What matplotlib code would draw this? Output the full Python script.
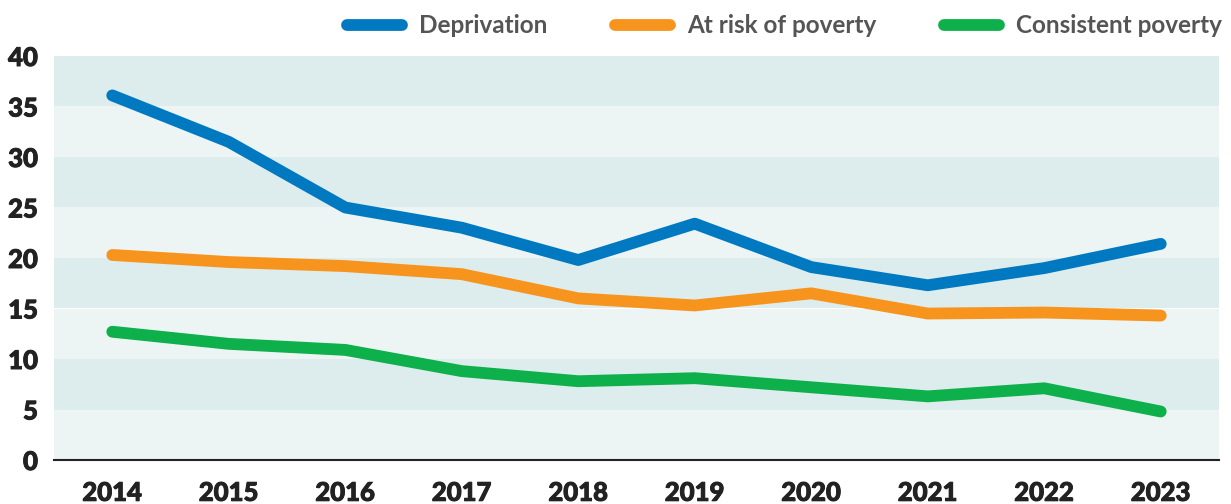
import matplotlib
matplotlib.use("Agg")
import matplotlib.pyplot as plt
from matplotlib.lines import Line2D
import matplotlib.patheffects as pe

plt.rcParams['font.family'] = ['Lato', 'DejaVu Sans']

years = ["2014", "2015", "2016", "2017", "2018", "2019", "2020", "2021", "2022", "2023"]
deprivation = [36.1, 31.5, 25.0, 23.0, 19.8, 23.4, 19.1, 17.3, 19.0, 21.4]
at_risk = [20.3, 19.6, 19.2, 18.4, 16.0, 15.3, 16.5, 14.5, 14.6, 14.3]
consistent = [12.7, 11.5, 10.9, 8.8, 7.8, 8.1, 7.2, 6.3, 7.1, 4.8]
yticks = [0, 5, 10, 15, 20, 25, 30, 35, 40]

colors = {"Deprivation": "#0079C1", "At risk of poverty": "#F7941D", "Consistent poverty": "#0DB04B"}

fig = plt.figure(figsize=(12.31, 5.04), dpi=100)
ax = fig.add_axes([54/1231, 1 - 460/504, (1219-54)/1231, (460-56)/504])

for i in range(len(yticks) - 1):
    c = "#ECF5F4" if i % 2 == 0 else "#DDECEC"
    ax.axhspan(yticks[i], yticks[i+1], color=c, lw=0, zorder=0)

x = range(len(years))
for name, vals in [("Deprivation", deprivation), ("At risk of poverty", at_risk), ("Consistent poverty", consistent)]:
    ax.plot(x, vals, color=colors[name], lw=8.5, solid_capstyle='round', solid_joinstyle='round', zorder=3)

ax.set_xlim(-0.5, len(years) - 0.5)
ax.set_ylim(0, 40)
ax.set_xticks(list(x))
ax.set_xticklabels(years)
ax.set_yticks(yticks)
for s in ["top", "right", "left"]:
    ax.spines[s].set_visible(False)
ax.spines["bottom"].set_color("#222222")
ax.spines["bottom"].set_linewidth(1.5)
ax.tick_params(axis='both', length=0, labelsize=18.5, labelcolor="#222222")
ax.tick_params(axis='x', pad=15)
ax.tick_params(axis='y', pad=11.5)
for lab in ax.get_xticklabels() + ax.get_yticklabels():
    lab.set_fontweight('black')
    lab.set_path_effects([pe.withStroke(linewidth=0.7, foreground="#222222")])

handles = [Line2D([0], [0], color=colors[n], lw=8.5, solid_capstyle='round') for n in colors]
leg = fig.legend(handles, list(colors.keys()), loc='upper right', bbox_to_anchor=(1.0103, 1.015),
                 ncol=3, frameon=False, handlelength=2.25, columnspacing=2.8, handletextpad=0.7,
                 prop={'family': 'Lato', 'weight': 'bold', 'size': 17.5})
for t in leg.get_texts():
    t.set_color("#555555")

fig.savefig("out.png", dpi=100)
